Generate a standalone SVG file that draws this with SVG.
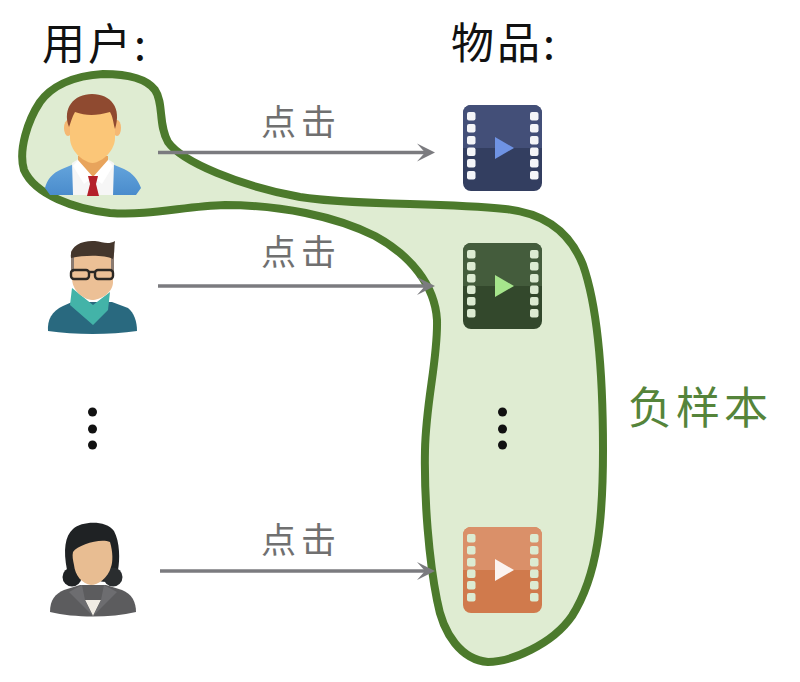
<svg xmlns="http://www.w3.org/2000/svg" width="800" height="682" viewBox="0 0 800 682">
<style>
text{font-family:"Noto Sans CJK SC","Noto Sans CJK JP",sans-serif}
.title{font-size:43px;fill:#111;font-weight:400;letter-spacing:3px}
.click{font-size:35px;fill:#707070;letter-spacing:5px;font-weight:400}
.neg{font-size:44px;fill:#55843a;letter-spacing:4px;font-weight:400}
.conn{fill:none;stroke:#7b7b7f;stroke-width:3.4}
.head{fill:#7b7b7f}
.dot{fill:#111}
.body{fill:var(--b)}
.top{fill:var(--t)}
.hole{fill:var(--h)}
.play{fill:var(--p)}
.v1{--b:#333e60;--t:#434f78;--h:#f4f5f8;--p:#6f93e4}
.v2{--b:#33482c;--t:#445c3c;--h:#dcebd2;--p:#a6e58c}
.v3{--b:#d07a4c;--t:#da9069;--h:#dcebd2;--p:#fbf3ef}
</style>
<defs>
<linearGradient id="blue" x1="0" y1="0" x2="0" y2="1"><stop offset="0" stop-color="#64a4dc"/><stop offset="1" stop-color="#4a8ccc"/></linearGradient>
<g id="film">
<rect class="body" x="0" y="0" width="79" height="86" rx="8"/>
<path class="top" d="M8 0H71a8 8 0 0 1 8 8V43H0V8a8 8 0 0 1 8-8z"/>
<g class="hole">
<rect x="4" y="7" width="8.500" height="8.500" rx="2"/><rect x="4" y="19" width="8.500" height="8.500" rx="2"/><rect x="4" y="31" width="8.500" height="8.500" rx="2"/><rect x="4" y="42.500" width="8.500" height="8.500" rx="2"/><rect x="4" y="54" width="8.500" height="8.500" rx="2"/><rect x="4" y="66" width="8.500" height="8.500" rx="2"/>
<rect x="67" y="7" width="8.500" height="8.500" rx="2"/><rect x="67" y="19" width="8.500" height="8.500" rx="2"/><rect x="67" y="31" width="8.500" height="8.500" rx="2"/><rect x="67" y="42.500" width="8.500" height="8.500" rx="2"/><rect x="67" y="54" width="8.500" height="8.500" rx="2"/><rect x="67" y="66" width="8.500" height="8.500" rx="2"/>
</g>
<path class="play" d="M32 32L51 43L32 54z"/>
</g>
<path id="ah" class="head" d="M0 0L-18-9L-10 0L-18 9z"/>
</defs>

<g id="negative-region">
<path d="M103 74C125 74 146 78 155 90C164 103 158 125 168 142C182 162 240 186 300 197C360 206 440 202 505 209C545 213 570 232 583 265C597 305 603 375 603 450C603 520 598 575 572 616C552 645 510 662 488 662C462 660 443 635 437 600C429 560 424 500 425 450C426 400 438 360 437 320C435 285 410 255 375 236C335 216 280 205 225 205C185 206 150 216 110 213C75 209 35 195 24 170C18 150 28 120 40 102C50 88 70 76 103 74z" fill="#dfecd2" stroke="#4c7a2c" stroke-width="8" stroke-linejoin="round"/>
</g>

<g id="connectors">
<path class="conn" d="M158 152.500H426"/><use href="#ah" x="435" y="152.500"/>
<path class="conn" d="M158 286H426"/><use href="#ah" x="435" y="286"/>
<path class="conn" d="M160 571H426"/><use href="#ah" x="435" y="571"/>
</g>

<g id="header-users"><text class="title" x="42" y="60">用户:</text></g>
<g id="header-items"><text class="title" x="451" y="59">物品:</text></g>
<g id="label-click-1"><text class="click" x="261" y="135">点击</text></g>
<g id="label-click-2"><text class="click" x="261" y="265">点击</text></g>
<g id="label-click-3"><text class="click" x="261" y="553">点击</text></g>
<g id="label-negative"><text class="neg" x="628" y="424">负样本</text></g>

<g id="user-1">
<path d="M45 188C47 180 52 173 62 169L74 164H112L124 169C133 173 138 180 141 188L136 195H50z" fill="url(#blue)"/>
<path d="M72 163L80 158H106L114 163L113 195H73z" fill="#f6f6f6"/>
<path d="M78 156H108V166L93 178L78 166z" fill="#e8a45c"/>
<path d="M78 160L93 177L108 160L113 166L102 184L93 177L84 184L73 166z" fill="#ffffff"/>
<path d="M88 176H98L96 184L99 196H87L90 184z" fill="#b4202a"/>
<ellipse cx="68" cy="128" rx="4" ry="8" fill="#f5b873"/><ellipse cx="117" cy="128" rx="4" ry="8" fill="#f5b873"/>
<path d="M70 112H115V138C115 150 103 162 92.500 163C82 162 70 150 70 138z" fill="#fbc678"/>
<path d="M69 127C62 108 74 94 92 94C111 94 122 108 115 129C113 122 113 117 110 112C96 116 86 116 75 112C72 117 71 122 69 127z" fill="#8f4a30"/>
</g>

<g id="user-2">
<path d="M48 331C47 320 52 311 63 306L72 302H112L128 308C134 313 137 321 137 331C110 335 75 335 48 331z" fill="#29697f"/>
<path d="M72 288L70 305L93 325L108 310L110 292L93 305z" fill="#43b3a8"/>
<path d="M72 252H113V282C113 293 100 300 92 300C82 299 72 290 72 278z" fill="#ecc096"/>
<path d="M71 250V272H74V256zM111 256V272H114V250z" fill="#8a7a70"/>
<path d="M71 258C69 246 82 240 95 241C103 242 108 245 115 241C114 246 115 252 113 259C105 255 85 255 71 258z" fill="#44362c"/>
<g fill="none" stroke="#2c2824" stroke-width="2.400"><rect x="71" y="270" width="18" height="9" rx="3"/><rect x="95" y="270" width="18" height="9" rx="3"/><path d="M89 272H95"/></g>
</g>

<g id="user-3">
<path d="M50 612C50 600 55 594 64 590L80 585H106L122 590C132 594 136 602 136 612C110 618 75 618 50 612z" fill="#5c5c5e"/>
<path d="M85 600H101L93 616z" fill="#f0ece4"/>
<path d="M82 585L69 592L93 616L85 600zM104 585L117 592L93 616L101 600z" fill="#6d6d70"/>
<path d="M67 570C63 550 65 536 73 529C82 521 106 520 114 531C120 542 120 560 118 570C115 582 105 584 98 580H80C75 584 70 580 67 570z" fill="#1f2224"/>
<circle cx="72" cy="577" r="9.500" fill="#1f2224"/><circle cx="113" cy="577" r="9.500" fill="#2a2d2f"/>
<path d="M73 552C78 545 100 538 110 542C113 552 113 562 111 567C108 578 98 585 91 585C82 584 75 575 74 565C73 560 72 556 73 552z" fill="#e8bd92"/>
</g>

<g id="video-1" class="v1"><use href="#film" x="463" y="105"/></g>
<g id="video-2" class="v2"><use href="#film" x="463" y="243"/></g>
<g id="video-3" class="v3"><use href="#film" x="463" y="527"/></g>

<g id="ellipsis-users"><circle class="dot" cx="92.500" cy="412" r="4.500"/><circle class="dot" cx="92.500" cy="429" r="4.500"/><circle class="dot" cx="92.500" cy="445" r="4.500"/></g>
<g id="ellipsis-items"><circle class="dot" cx="502.500" cy="412" r="4.500"/><circle class="dot" cx="502.500" cy="429" r="4.500"/><circle class="dot" cx="502.500" cy="445" r="4.500"/></g>
</svg>
